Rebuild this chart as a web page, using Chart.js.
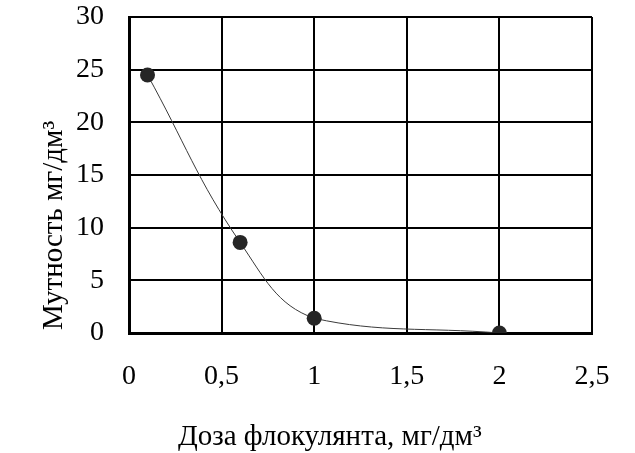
<!DOCTYPE html>
<html>
<head>
<meta charset="utf-8">
<script src="https://cdn.jsdelivr.net/npm/chart.js@4.4.1/dist/chart.umd.min.js"></script>
<style>
  html, body { margin: 0; padding: 0; background: #fff; }
  canvas { display: block; }
</style>
</head>
<body>
<canvas id="c" width="635" height="453"></canvas>
<script>
// ---------- 데이터 ----------
const doseValues = [0.1, 0.6, 1, 2];          // мг/дм³
const turbidityValues = [24.5, 8.6, 1.4, 0];  // мг/дм³
const xTickLabels = ['0', '0,5', '1', '1,5', '2', '2,5'];
const yTickLabels = ['0', '5', '10', '15', '20', '25', '30'];
const xTitle = 'Доза флокулянта, мг/дм³';
const yTitle = 'Мутность мг/дм³';

const FONT = '"Liberation Serif", "Times New Roman", serif';
const INK = '#000000';
const MARKER = '#262626';

// 축 제목은 원본처럼 중앙이 아닌 위치에 놓이므로 직접 그린다
const axisTitles = {
  id: 'axisTitles',
  afterDraw(chart) {
    const { ctx, chartArea } = chart;
    ctx.save();
    ctx.fillStyle = INK;
    ctx.font = '29px ' + FONT;
    ctx.textAlign = 'left';
    ctx.textBaseline = 'alphabetic';
    ctx.fillText(xTitle, chartArea.left + 49, chartArea.bottom + 112);
    ctx.translate(chartArea.left - 67, chartArea.bottom - 3);
    ctx.rotate(-Math.PI / 2);
    ctx.fillText(yTitle, 0, 0);
    ctx.restore();
  }
};

const points = doseValues.map((x, i) => ({ x, y: turbidityValues[i] }));

new Chart(document.getElementById('c'), {
  type: 'scatter',
  data: {
    datasets: [{
      data: points,
      showLine: true,
      borderColor: '#3a3a3a',
      borderWidth: 1,
      tension: 0.4,
      pointRadius: 7.5,
      pointBackgroundColor: MARKER,
      pointBorderColor: MARKER,
      pointBorderWidth: 0,
    }],
  },
  options: {
    responsive: false,
    animation: false,
    layout: { padding: { left: 0, top: 17, right: 43, bottom: 0 } },
    plugins: {
      legend: { display: false },
      tooltip: { enabled: false },
    },
    scales: {
      x: {
        type: 'linear',
        min: 0,
        max: 2.5,
        afterFit: (s) => { s.height = 120; s.paddingLeft = 0; s.paddingRight = 0; },
        ticks: {
          stepSize: 0.5,
          color: INK,
          padding: 27,
          font: { family: FONT, size: 28 },
          callback: (v, i) => xTickLabels[i],
        },
        grid: { color: INK, lineWidth: 2, drawTicks: false },
        border: { color: INK, width: 3 },
      },
      y: {
        min: 0,
        max: 30,
        afterFit: (s) => { s.width = 129; s.paddingTop = 0; s.paddingBottom = 0; },
        ticks: {
          stepSize: 5,
          color: INK,
          padding: 25,
          font: { family: FONT, size: 28 },
          callback: (v, i) => yTickLabels[i],
        },
        grid: { color: INK, lineWidth: 2, drawTicks: false },
        border: { color: INK, width: 3 },
      },
    },
  },
  plugins: [axisTitles],
});
</script>
</body>
</html>
